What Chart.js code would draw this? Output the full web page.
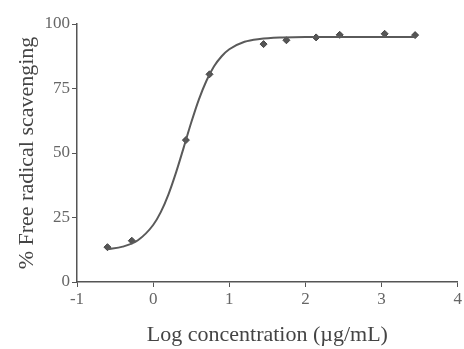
<!DOCTYPE html>
<html>
<head>
<meta charset="utf-8">
<script src="https://cdn.jsdelivr.net/npm/chart.js@4/dist/chart.umd.min.js"></script>
<style>
  html, body { margin: 0; padding: 0; background: #fff; }
  #wrap { width: 464px; height: 349px; position: relative; }
</style>
</head>
<body>
<div id="wrap"><canvas id="c" width="464" height="349"></canvas></div>
<script>
// Measured points (log concentration, % scavenging)
const logConc = [-0.6, -0.28, 0.43, 0.74, 1.45, 1.75, 2.14, 2.45, 3.04, 3.44];
const scavenging = [13.5, 16, 55, 80.5, 92.2, 93.7, 94.8, 95.8, 96.2, 95.7];

// Fitted curve
const curveX = [-0.6, -0.4, -0.2, 0, 0.1, 0.2, 0.3, 0.4, 0.5, 0.6, 0.7, 0.8, 0.9, 1.0, 1.2, 1.4, 1.7, 2.0, 2.5, 3.0, 3.44];
const curveY = [12.7, 13.7, 16.2, 22.1, 27.1, 33.9, 42.4, 52.0, 61.8, 70.7, 78.0, 83.6, 87.5, 90.2, 93.1, 94.2, 94.8, 95.0, 95.0, 95.0, 95.0];

const xTicks = [-1, 0, 1, 2, 3, 4];
const yTicks = [0, 25, 50, 75, 100];

const xTitle = 'Log concentration (\u00b5g/mL)';
const yTitle = '% Free radical scavenging';

const serif = '"Liberation Serif", "DejaVu Serif", serif';
const axisColor = '#555';

new Chart(document.getElementById('c'), {
  type: 'scatter',
  data: {
    datasets: [
      {
        type: 'line',
        data: curveX.map((x, i) => ({ x, y: curveY[i] })),
        borderColor: '#5a5a5a',
        borderWidth: 2,
        pointRadius: 0,
        fill: false,
        tension: 0.4,
        cubicInterpolationMode: 'monotone'
      },
      {
        data: logConc.map((x, i) => ({ x, y: scavenging[i] })),
        pointStyle: 'rectRot',
        pointRadius: 3.5,
        backgroundColor: '#555',
        borderColor: '#444',
        borderWidth: 1
      }
    ]
  },
  options: {
    responsive: false,
    animation: false,
    devicePixelRatio: 1,
    layout: { padding: { left: 0, right: 4, top: 24, bottom: 0 } },
    plugins: { legend: { display: false }, tooltip: { enabled: false } },
    scales: {
      x: {
        type: 'linear',
        min: -1, max: 4,
        afterBuildTicks: s => { s.ticks = xTicks.map(v => ({ value: v })); },
        afterFit: s => { s.height = 67; },
        border: { display: true, color: axisColor, width: 1.5 },
        grid: { display: true, drawOnChartArea: false, drawTicks: true, tickLength: 5, color: axisColor },
        ticks: { color: '#666', font: { family: serif, size: 17 }, padding: 2, maxRotation: 0,
                 callback: v => v < 0 ? '-' + Math.abs(v) : String(v) },
        title: { display: true, text: xTitle, color: '#444', font: { family: serif, size: 22 }, padding: { top: 4, bottom: 1 } }
      },
      y: {
        type: 'linear',
        min: 0, max: 100,
        afterBuildTicks: s => { s.ticks = yTicks.map(v => ({ value: v })); },
        afterFit: s => { s.width = 77; },
        border: { display: true, color: axisColor, width: 1.5 },
        grid: { display: true, drawOnChartArea: false, drawTicks: true, tickLength: 5, color: axisColor },
        ticks: { color: '#666', font: { family: serif, size: 17 }, padding: 2 },
        title: { display: true, text: yTitle, color: '#444', font: { family: serif, size: 22 }, padding: { top: 14, bottom: 6 } }
      }
    }
  }
});
</script>
</body>
</html>
